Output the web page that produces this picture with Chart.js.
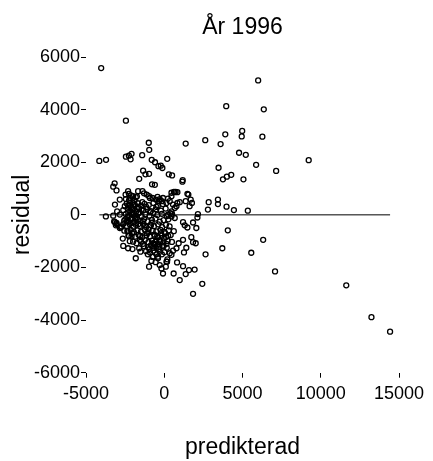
<!DOCTYPE html>
<html>
<head>
<meta charset="utf-8">
<script src="https://cdn.jsdelivr.net/npm/chart.js@4"></script>
<style>
  html, body { margin: 0; padding: 0; background: #fff; }
  #wrap { width: 433px; height: 461px; }
</style>
</head>
<body>
<div id="wrap"><canvas id="residual-chart" width="433" height="461"></canvas></div>
<script>
const chartTitle = 'År 1996';
const xTitle = 'predikterad';
const yTitle = 'residual';

const xTicks = [-5000, 0, 5000, 10000, 15000];
const yTicks = [-6000, -4000, -2000, 0, 2000, 4000, 6000];

// predicted value per observation
const predikterad = [
  -4030, 6000, 3960, 6360, -2450, 4980, 4950, 6270, 3900, -990,
  1370, 2620, 3600, -960, 4780, 5210, 5870, 9230, 7150, 5060,
  5340, -4150, -3720, -2450, -2260, -2090, -2150, -1410, -800, -590,
  -370, -120, -220, 190, -3170, -3050, -1350, -1200, -970, -1600,
  -780, -600, 290, 500, 1180, 3470, 3750, 4000, 4280, 460,
  670, 840, 1480, 1690, 1770, 2840, 3430, 3430, 3980, 4450,
  2790, 2150, 1160, -3260, 6320, 5560, 7080, 11630, 13240, 14430,
  4060, 3710, 2640, 2430, 1840, 990, 1370, 1580, 1940, 1200,
  600, 820, 200, 140, 1410, 1260, 780, 560, 350, 460,
  1730, 1840, 2010, 1200, 920, 1200, 1480, 1310, 1840, 2050,
  2120, 460, 670, -3730, -3200, -3090, -2770, -3050, -2560, -2620,
  -2620, -2310, -2030, -1820, -1520, -1600, -2090, -1990, -1770, -1560,
  -970, -820, -710, -500, -400, -290, -180, -80, 100, 180,
  -400, -290, -500, -600, -710, -3150, -2840, -2520, -3010, -2840,
  -3260, -3150, -3050, -2730, -2840, -2310, -2130, -1990, -1820, -1670,
  -1290, -970, -750, -430, -290, -80, 240, 460, 620, 730,
  1370, 1620, 1540, -2470, -2260, -1390, -1120, -920, -540, -160,
  -350, 560, 840, 990, 670, 460, 240, 500, 780, 350,
  140, -2400, -2210, -2040, -1880, -1690, -1480, -1260, -990, -690,
  -410, -90, -2620, -2340, -2160, -1960, -1790, -1610, -1340, -1090,
  -860, -540, -210, 90, -2460, -2240, -2060, -1840, -1660, -1440,
  -1210, -940, -710, -440, -160, 160, 390, -2490, -2310, -2090,
  -1910, -1690, -1510, -1290, -1060, -790, -560, -290, -40, 260,
  -2390, -2210, -1990, -1810, -1560, -1340, -1160, -890, -660, -390,
  -140, 110, 340, -2340, -2140, -1940, -1710, -1490, -1240, -1010,
  -740, -510, -240, 10, 290, 610, -2290, -1860, -1640, -1410,
  -1140, -910, -640, -390, -160, 110, 410, -1490, -1240, -1010,
  -790, -560, -310, -60, 210, 490, -1290, -1040, -860, -310,
  -110, 160, -1160, -910, -690, 10, -2250, -2100, -1950, -1750,
  -1580, -1400, -2350, -2000, -1700, -1900, -2150, -1350, -1000, -800,
  -600, -400, -200, 0, -1100, -700, -900, -500, -2300, -2200,
  -2400, -2050, -2300, -2150, -2450, -2350, -2250, -2200, -2050, -1950,
  -1850, -1750, -1650, -1550, -1450, -1350, -1250, -1150, -1050, -950,
  -850, -750, -650, -550, -450, -350, -250, -150, -50, 50,
  150, 250, -2550, -2650
];

// residual per observation, same order as predikterad
const residual = [
  5580, 5110, 4130, 4010, 3580, 3190, 2980, 2970, 3060, 2740,
  2710, 2840, 2690, 2470, 2360, 2280, 1900, 2080, 1670, 1350,
  160, 2050, 2090, 2210, 2250, 2320, 2110, 2270, 2090, 2000,
  1850, 1780, 1870, 2130, 1200, 930, 1680, 1540, 1560, 1370,
  1160, 1140, 1540, 1500, 1320, 1790, 1350, 1450, 1520, 840,
  860, 860, 800, 580, 450, 480, 580, 410, 310, 180,
  200, 30, 1260, 1070, -950, -1440, -2150, -2680, -3890, -4440,
  -590, -1270, -1500, -2620, -3000, -2480, -2250, -2100, -2080, -1950,
  -2230, -1810, -1690, -1780, -1250, -1430, -1270, -1360, -1460, -1520,
  -850, -1040, -1080, -950, -1080, -280, -480, -400, -290, -500,
  -100, -60, -120, -60, -250, -400, -480, -310, -220, -350,
  -1180, -1270, -1300, -1650, -1400, -1270, -820, -1020, -1080, -950,
  -1970, -1750, -1590, -1500, -1650, -1910, -2040, -2230, -1970, -1780,
  -1590, -1400, -1270, -1140, -1080, 390, 580, 330, 130, 10,
  -30, -280, -350, -440, -500, 900, 740, 710, 670, 900,
  820, 710, 640, 680, 600, 640, 620, 710, 870, 870,
  520, 330, 770, 770, 800, 900, 770, 640, 580, 520,
  540, 390, 450, 480, 260, 130, 10, 30, 330, 520,
  450, 430, 360, 470, 380, 440, 350, 420, 370, 450,
  340, 410, 180, 240, 150, 220, 130, 250, 170, 230,
  140, 210, 160, 240, 30, -40, 60, -20, 50, -60,
  20, -30, 70, -10, 40, -50, 60, -170, -240, -150,
  -260, -180, -230, -160, -250, -190, -140, -260, -200, -170,
  -430, -360, -450, -380, -420, -350, -460, -390, -430, -360,
  -470, -380, -440, -620, -570, -660, -590, -640, -560, -670,
  -600, -630, -570, -650, -590, -620, -790, -830, -760, -850,
  -780, -820, -750, -860, -790, -840, -770, -1010, -960, -1040,
  -980, -1030, -970, -1050, -990, -1030, -1190, -1230, -1160, -1220,
  -1170, -1250, -1380, -1430, -1360, -1420, 550, 300, 80, -100,
  100, 480, -80, -300, 300, 550, -300, -250, -550, -300,
  -800, -1100, -700, -900, -700, -1250, 100, 300, 100, 650,
  -250, 200, 350, -150, 600, -600, -800, -1000, -700, 400,
  -150, 700, -350, -800, 200, -1100, -400, 300, -1500, -1300,
  -400, -1600, -1100, -1800, -800, -1300, -1000, -1500, -1200, -700,
  -1100, -800, -600, -900
];

const points = predikterad.map((x, i) => ({ x, y: residual[i] }));

// zero reference line across the observed range of predictions
const zeroLine = [
  { x: Math.min(...predikterad), y: 0 },
  { x: Math.max(...predikterad), y: 0 },
];

const family = "'Liberation Sans', Arial, Helvetica, sans-serif";

const tickMarks = {
  drawOnChartArea: false,
  drawTicks: true,
  tickLength: 5,
  color: '#000',
  lineWidth: 1,
};

new Chart(document.getElementById('residual-chart').getContext('2d'), {
  type: 'scatter',
  data: {
    datasets: [
      {
        type: 'line',
        data: zeroLine,
        borderColor: '#000',
        borderWidth: 1,
        pointRadius: 0,
        fill: false,
      },
      {
        data: points,
        pointStyle: 'circle',
        pointRadius: 2.5,
        borderWidth: 1.3,
        borderColor: '#000',
        backgroundColor: 'rgba(0,0,0,0)',
      },
    ],
  },
  options: {
    responsive: false,
    animation: false,
    layout: { padding: { left: 0, right: 34, top: 0, bottom: 0 } },
    plugins: {
      legend: { display: false },
      tooltip: { enabled: false },
      title: {
        display: true,
        text: chartTitle,
        fullSize: false,
        color: '#000',
        font: { family, size: 23, weight: 'normal' },
        padding: { top: 14, bottom: 15.4 },
      },
    },
    scales: {
      x: {
        type: 'linear',
        position: 'bottom',
        min: xTicks[0],
        max: xTicks[xTicks.length - 1],
        ticks: {
          stepSize: xTicks[1] - xTicks[0],
          color: '#000',
          font: { family, size: 18 },
          padding: 6,
          maxRotation: 0,
          callback: (v) => String(v),
        },
        grid: tickMarks,
        border: { display: false },
        title: {
          display: true,
          text: xTitle,
          color: '#000',
          font: { family, size: 23 },
          padding: { top: 0, bottom: 0 },
        },
        afterFit(scale) { scale.height = 88.3; },
      },
      y: {
        type: 'linear',
        position: 'left',
        min: yTicks[0],
        max: yTicks[yTicks.length - 1],
        ticks: {
          stepSize: yTicks[1] - yTicks[0],
          color: '#000',
          font: { family, size: 18 },
          padding: 1,
          callback: (v) => String(v),
        },
        grid: tickMarks,
        border: { display: false },
        title: {
          display: true,
          text: yTitle,
          color: '#000',
          font: { family, size: 23 },
          padding: { top: 9, bottom: 0 },
        },
        afterFit(scale) { scale.width = 86; },
      },
    },
  },
});
</script>
</body>
</html>
